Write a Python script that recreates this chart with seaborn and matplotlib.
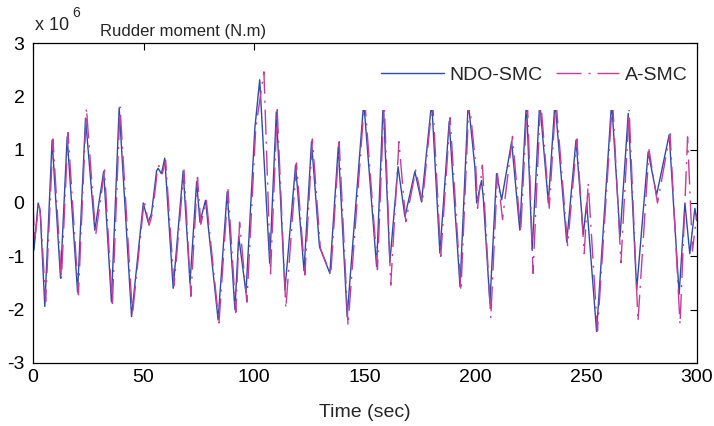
import numpy as np
import pandas as pd
import seaborn as sns
import matplotlib.pyplot as plt
from matplotlib.patches import Rectangle

sns.set_style("white")
plt.rcParams['font.family'] = ['Liberation Sans', 'DejaVu Sans']
plt.rcParams['axes.unicode_minus'] = False

# NDO-SMC turning points (time in s, moment in 1e6 N.m)
ndo_t = [0, 0.5, 2.4, 3.3, 5.4, 8.7, 12.5, 15.5, 20.2, 23.8, 28.0, 32.0, 35.5, 39.0, 44.6,
         49.9, 52.1, 53.6, 55.9, 56.6, 58.1, 59.6, 63.4, 67.9, 71.0, 74.0, 75.5, 78.0, 83.7,
         87.8, 91.3, 93.0, 96.3, 100.3, 102.5, 107.0, 110.0, 113.9, 118.7, 122.5, 125.9,
         129.5, 134.2, 138.0, 142.0, 149.5, 155.3, 158.3, 161.3, 165.0, 168.1, 172.6, 175.6,
         180.2, 183.9, 188.1, 193.0, 196.7, 199.7, 200.5, 202.7, 203.5, 206.5, 209.5, 211.8,
         216.3, 220.0, 223.0, 225.6, 229.0, 232.9, 235.9, 241.2, 245.4, 248.7, 250.2, 254.7,
         261.5, 265.3, 269.0, 272.8, 278.0, 281.8, 287.5, 292.0, 294.6, 296.8, 299.1, 300]
ndo_v = [0.0, -0.88, 0.0, -0.14, -1.94, 1.18, -1.41, 1.24, -1.67, 1.59, -0.51, 0.59, -1.85,
         1.78, -2.13, 0.0, -0.36, -0.2, 0.6, 0.65, 0.55, 0.84, -1.6, 0.6, -1.5, 0.4, -0.36,
         0.05, -2.19, 0.21, -2.0, -0.63, -1.68, 1.4, 2.31, -1.13, 1.71, -1.63, 0.71, -1.27,
         1.15, -0.82, -1.32, 1.06, -2.13, 1.9, -1.19, 1.9, -1.11, 0.68, -0.26, 0.59, 0.02,
         1.9, -0.94, 1.53, -1.57, 1.9, 0.68, 0.0, 0.42, 0.1, -1.88, 0.55, 0.06, 1.15, -0.51,
         1.9, -0.89, 1.9, 0.0, 1.9, -0.73, 1.18, -0.59, 0.0, -2.41, 1.9, -0.63, 1.68, -1.63,
         0.96, 0.15, 1.28, -1.71, 0.0, -0.95, -0.1, -0.33]

# A-SMC turning points
asmc_t = [0, 0.8, 2.8, 3.6, 5.8, 9.1, 12.9, 15.9, 20.6, 24.2, 28.4, 32.4, 35.9, 39.4, 45.0,
          50.3, 52.5, 54.0, 56.3, 57.0, 58.5, 60.0, 63.8, 68.3, 71.4, 74.4, 75.9, 78.4, 84.1,
          88.2, 91.7, 93.4, 96.7, 100.7, 104.4, 107.4, 110.4, 114.3, 119.1, 122.9, 126.3,
          129.9, 134.6, 138.4, 142.4, 149.9, 155.7, 158.7, 161.7, 165.4, 168.5, 173.0, 176.0,
          180.6, 184.3, 188.5, 193.4, 197.1, 200.1, 200.9, 203.1, 203.9, 206.9, 209.9, 212.2,
          216.7, 220.4, 223.4, 226.0, 229.4, 233.3, 236.3, 241.6, 245.8, 249.1, 250.9, 255.1,
          261.9, 265.7, 269.4, 273.4, 278.4, 282.2, 287.9, 292.4, 295.8, 298.0, 300]
asmc_v = [0.05, -0.7, 0.0, -0.3, -1.85, 1.2, -1.45, 1.32, -1.72, 1.78, -0.6, 0.62, -1.95,
          1.8, -2.1, 0.05, -0.42, -0.2, 0.62, 0.7, 0.55, 0.8, -1.55, 0.62, -1.75, 0.48, -0.4,
          0.05, -2.25, 0.25, -2.05, -0.36, -1.86, 1.4, 2.46, -1.33, 1.75, -1.98, 0.75, -1.35,
          1.2, -0.85, -1.35, 1.15, -2.3, 1.95, -1.25, 1.95, -1.54, 1.15, -0.35, 0.62, 0.0,
          1.95, -1.0, 1.6, -1.65, 1.95, 0.7, -0.1, 0.71, 0.1, -2.16, 0.55, -0.31, 1.25, -0.55,
          1.95, -1.32, 1.95, -0.1, 1.95, -0.8, 1.2, -0.95, 0.38, -2.4, 1.95, -1.12, 1.75,
          -2.22, 1.0, 0.0, 1.3, -2.28, 1.24, -0.9, -0.2]

fig = plt.figure(figsize=(7.14, 4.26), dpi=100)
ax = fig.add_axes([0.046, 0.148, 0.93, 0.751])

sns.lineplot(x=ndo_t, y=ndo_v, ax=ax, color='#2d4caa', linewidth=1.0,
             estimator=None, sort=False, label='NDO-SMC')
sns.lineplot(x=asmc_t, y=asmc_v, ax=ax, color='#c63c9e', linewidth=1.0,
             estimator=None, sort=False, label='A-SMC')
ax.lines[1].set_dashes([18, 5, 1.5, 5])

ax.set_xlim(0, 300)
ax.set_ylim(-3, 3)
ax.set_xticks(range(0, 301, 50))
ax.set_yticks(range(-3, 4))
ax.tick_params(direction='in', length=5, width=0.8, top=True, right=True,
               labelsize=14, colors='black')
ax.tick_params(axis='x', pad=4)
ax.tick_params(axis='y', pad=6)
for s in ax.spines.values():
    s.set_color('black')
    s.set_linewidth(0.9)
    s.set_zorder(6)
ax.set_xlabel('Time (sec)', fontsize=14, labelpad=13)
ax.set_ylabel('')

# white legend box hiding the lines behind it (as in the original figure)
ax.add_patch(Rectangle((0.48, 0.791), 0.52, 0.209, transform=ax.transAxes,
                       facecolor='white', edgecolor='none', zorder=4))
leg = ax.legend(ncol=2, loc='center right', bbox_to_anchor=(0.986, 0.9),
                fontsize=14, frameon=False, handlelength=3.25, handletextpad=0.3,
                columnspacing=0.67, borderpad=0, borderaxespad=0)
leg.set_zorder(5)

fig.text(35 / 714, 1 - 30 / 426, 'x 10', fontsize=13, va='baseline')
fig.text(72 / 714, 1 - 17 / 426, '6', fontsize=10, va='baseline')
fig.text(100 / 714, 1 - 36 / 426, 'Rudder moment (N.m)', fontsize=12, va='baseline')

fig.savefig('out.png', dpi=100)
